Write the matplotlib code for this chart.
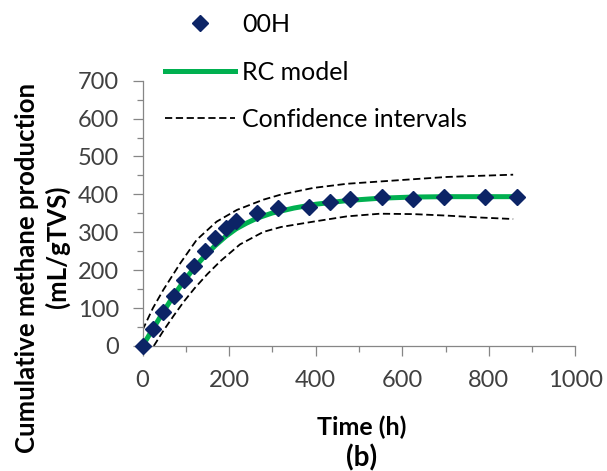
import matplotlib
matplotlib.use('Agg')
import matplotlib.pyplot as plt
from matplotlib.ticker import MultipleLocator

plt.rcParams['font.family'] = ['Lato', 'DejaVu Sans']

# measured data (00H)
time_h = [0, 24, 48, 72, 96, 120, 144, 168, 192, 216, 264, 312, 384, 432, 480, 552, 624, 696, 792, 864]
methane = [0, 45, 89, 133, 174, 212, 250, 284, 311, 331, 351, 365, 368, 380, 389, 392, 389, 392, 392, 393]

# RC model curve
model_t = [0, 24, 48, 72, 96, 120, 144, 168, 192, 216, 240, 264, 300, 350, 400, 475, 550, 625, 700, 864]
model_y = [0, 45, 90, 133, 172, 207, 238, 265, 289, 309, 324, 337, 351, 364, 374, 384, 390, 393, 394, 394]

# confidence intervals
upper_t = [0, 24, 48, 87, 125, 171, 218, 279, 318, 394, 472, 548, 625, 703, 779, 856]
upper_y = [42, 100, 148, 218, 280, 328, 359, 386, 399, 417, 428, 434, 440, 446, 449, 452]
lower_t = [26, 48, 72, 96, 120, 150, 180, 225, 279, 320, 394, 472, 548, 625, 703, 779, 856]
lower_y = [0, 40, 80, 118, 152, 190, 224, 268, 301, 314, 328, 342, 349, 348, 344, 339, 335]

fig = plt.figure(figsize=(6.07, 4.71), dpi=100)
ax = fig.add_axes([0.2348, 0.2654, 0.7133, 0.5633])

dash = (0, (4, 2))
ax.plot(upper_t, upper_y, color='black', lw=1.3, linestyle=dash, label='Confidence intervals')
ax.plot(lower_t, lower_y, color='black', lw=1.3, linestyle=dash)
ax.plot(model_t, model_y, color='#00B050', lw=3.6, label='RC model')
ax.plot(time_h, methane, linestyle='none', marker='D', ms=8.5, color='#0C2466',
        label='00H', clip_on=False, zorder=5)

ax.set_xlim(0, 1000)
ax.set_ylim(0, 700)
ax.xaxis.set_major_locator(MultipleLocator(200))
ax.xaxis.set_minor_locator(MultipleLocator(100))
ax.yaxis.set_major_locator(MultipleLocator(100))
ax.yaxis.set_minor_locator(MultipleLocator(50))

for s in ['top', 'right']:
    ax.spines[s].set_visible(False)
for s in ['left', 'bottom']:
    ax.spines[s].set_color('#868686')
    ax.spines[s].set_linewidth(0.9)
ax.tick_params(which='major', length=7, width=0.9, color='#868686', labelsize=17,
               labelcolor='#404040', pad=10)
ax.tick_params(which='minor', length=4.5, width=0.9, color='#868686')

# y title: two lines, placed separately like the original
fig.text(27 / 607, 1 - 268 / 471, 'Cumulative methane production', rotation=90,
         ha='center', va='center', fontsize=18.5, fontweight='bold')
fig.text(57 / 607, 1 - 247 / 471, '(mL/gTVS)', rotation=90,
         ha='center', va='center', fontsize=18.5, fontweight='bold')
fig.text(0.596, 0.093, 'Time (h)', ha='center', va='center', fontsize=18, fontweight='bold')
fig.text(0.596, 0.028, '(b)', ha='center', va='center', fontsize=20, fontweight='bold')

h, l = ax.get_legend_handles_labels()
order = [2, 1, 0]
fig.legend([h[i] for i in order], [l[i] for i in order], loc='upper left',
           bbox_to_anchor=(165 / 607, 1 - 13 / 471), frameon=False, fontsize=18,
           handlelength=2.8, handletextpad=0.3, labelspacing=0.98,
           borderpad=0, borderaxespad=0, numpoints=1)

fig.savefig('out.png', dpi=100)
